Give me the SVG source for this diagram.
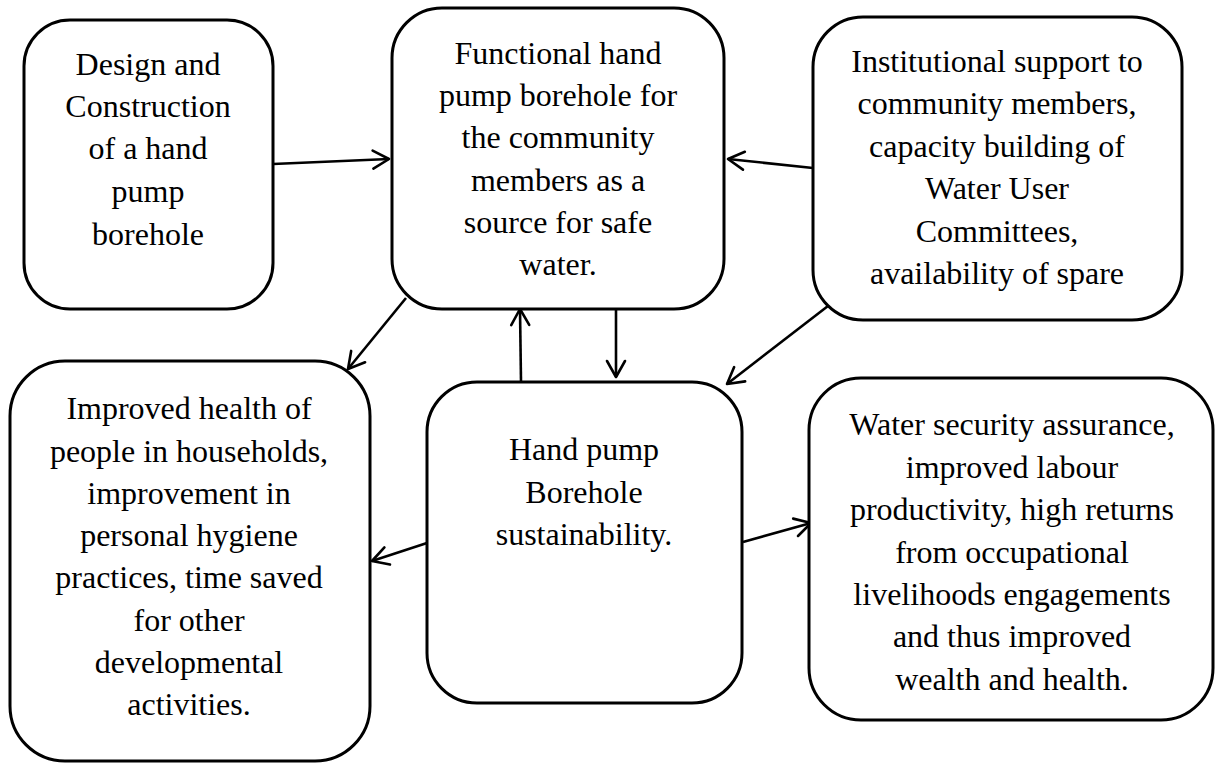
<svg xmlns="http://www.w3.org/2000/svg" width="1215" height="763" viewBox="0 0 1215 763">
<style>
.box{fill:#fff;stroke:#000;stroke-width:3}
.t{font-family:"Liberation Serif","Times New Roman",serif;font-size:32px;fill:#000;text-anchor:middle}
.c{stroke:#000;stroke-width:2.6;fill:none;marker-end:url(#ah)}
</style>
<defs>
<marker id="ah" markerUnits="userSpaceOnUse" markerWidth="24" markerHeight="24" viewBox="0 0 24 24" refX="19" refY="12" orient="auto">
<path d="M3,3 L19,12 L3,21" fill="none" stroke="#000" stroke-width="2.6" stroke-linecap="round" stroke-linejoin="round"/>
</marker>
</defs>
<rect width="1215" height="763" fill="#fff"/>
<g id="connectors">
<line class="c" x1="273" y1="164" x2="389" y2="159"/>
<line class="c" x1="813" y1="168" x2="728" y2="159"/>
<line class="c" x1="406" y1="298" x2="348" y2="369"/>
<line class="c" x1="521" y1="382" x2="520" y2="309"/>
<line class="c" x1="616" y1="310" x2="616" y2="377"/>
<line class="c" x1="828" y1="306" x2="727" y2="384"/>
<line class="c" x1="427" y1="543" x2="372" y2="561"/>
<line class="c" x1="743" y1="542" x2="811" y2="523"/>
</g>
<g id="n1">
<rect class="box" x="24" y="20" width="249" height="289" rx="46"/>
<text class="t"><tspan x="148" y="75">Design and</tspan><tspan x="148" y="117">Construction</tspan><tspan x="148" y="159">of a hand</tspan><tspan x="148" y="202">pump</tspan><tspan x="148" y="245">borehole</tspan></text>
</g>
<g id="n2">
<rect class="box" x="392" y="8" width="332" height="301" rx="50"/>
<text class="t"><tspan x="558" y="64">Functional hand</tspan><tspan x="558" y="106">pump borehole for</tspan><tspan x="558" y="148">the community</tspan><tspan x="558" y="191">members as a</tspan><tspan x="558" y="233">source for safe</tspan><tspan x="558" y="275">water.</tspan></text>
</g>
<g id="n3">
<rect class="box" x="813" y="17" width="369" height="303" rx="50"/>
<text class="t"><tspan x="997" y="72">Institutional support to</tspan><tspan x="997" y="114">community members,</tspan><tspan x="997" y="157">capacity building of</tspan><tspan x="997" y="199">Water User</tspan><tspan x="997" y="242">Committees,</tspan><tspan x="997" y="284">availability of spare</tspan></text>
</g>
<g id="n4">
<rect class="box" x="10" y="361" width="360" height="400" rx="55"/>
<text class="t"><tspan x="189" y="419">Improved health of</tspan><tspan x="189" y="462">people in households,</tspan><tspan x="189" y="504">improvement in</tspan><tspan x="189" y="546">personal hygiene</tspan><tspan x="189" y="588">practices, time saved</tspan><tspan x="189" y="631">for other</tspan><tspan x="189" y="673">developmental</tspan><tspan x="189" y="715">activities.</tspan></text>
</g>
<g id="n5">
<rect class="box" x="427" y="382" width="315" height="321" rx="50"/>
<text class="t"><tspan x="584" y="460">Hand pump</tspan><tspan x="584" y="503">Borehole</tspan><tspan x="584" y="545">sustainability.</tspan></text>
</g>
<g id="n6">
<rect class="box" x="809" y="378" width="404" height="342" rx="52"/>
<text class="t"><tspan x="1012" y="435">Water security assurance,</tspan><tspan x="1012" y="478">improved labour</tspan><tspan x="1012" y="520">productivity, high returns</tspan><tspan x="1012" y="563">from occupational</tspan><tspan x="1012" y="605">livelihoods engagements</tspan><tspan x="1012" y="647">and thus improved</tspan><tspan x="1012" y="690">wealth and health.</tspan></text>
</g>
</svg>
